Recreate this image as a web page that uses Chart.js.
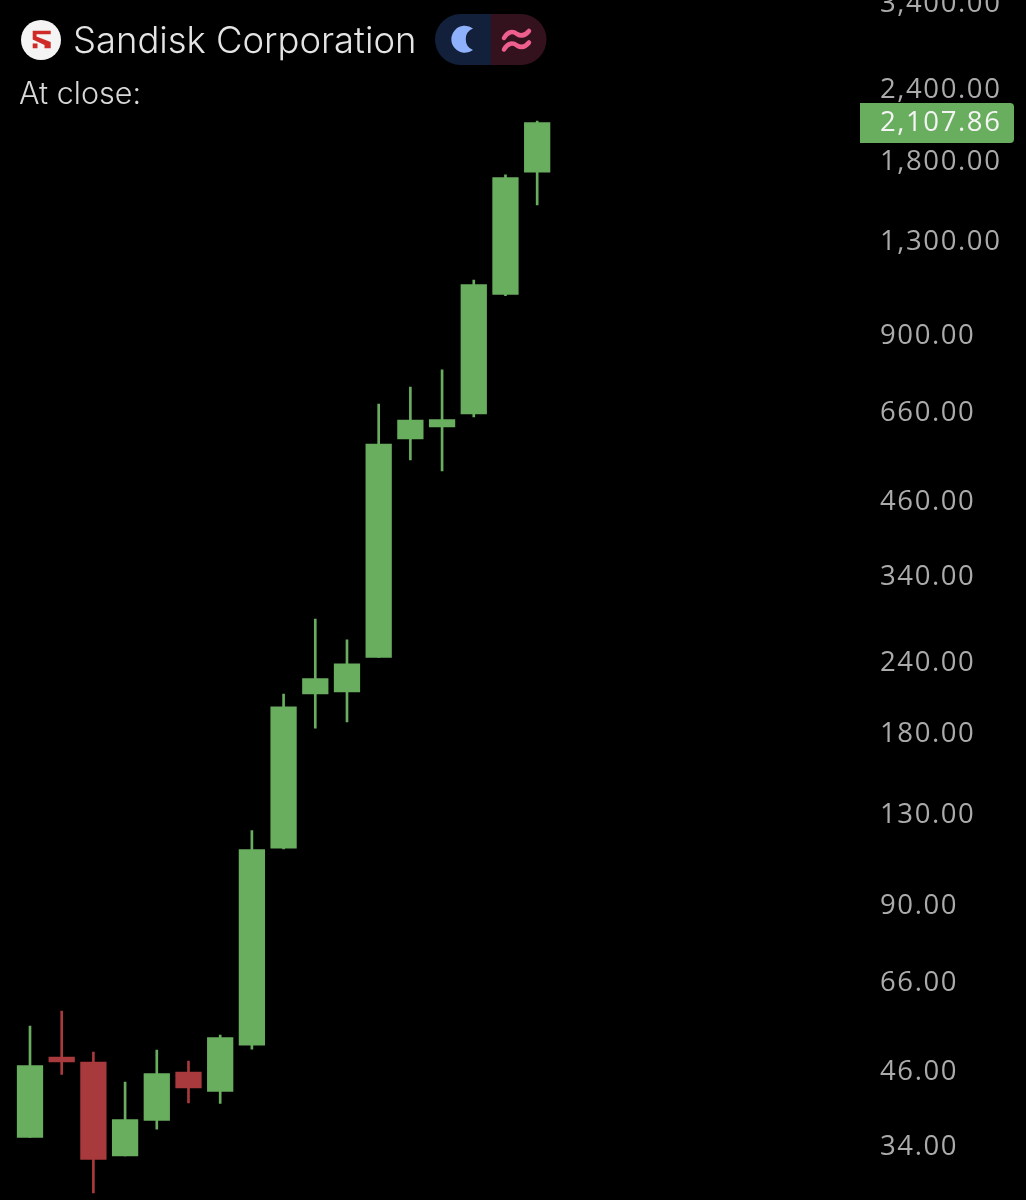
<!DOCTYPE html>
<html>
<head>
<meta charset="utf-8">
<style>
html,body{margin:0;padding:0;background:#000;width:1026px;height:1200px;overflow:hidden}
#wrap{position:relative;width:1026px;height:1200px}
canvas{position:absolute;left:0;top:0}
.t{position:absolute;font-family:Inter,"Open Sans",sans-serif;white-space:nowrap;line-height:1}
#name{left:73px;top:22px;font-size:36.4px;font-weight:300;color:#e4e4e4}
#sub{left:19px;top:78px;font-size:30.5px;font-weight:300;color:#d8d8d8}
svg{position:absolute}
</style>
<script src="https://cdn.jsdelivr.net/npm/chart.js@4"></script>
</head>
<body>
<div id="wrap">
<canvas id="c" width="1026" height="1200"></canvas>
<svg style="left:20px;top:19px" width="42" height="42" viewBox="0 0 42 42">
<circle cx="21" cy="21" r="20" fill="#f4f4f4"/>
<path d="M12.7 11.7 H30.7 V15.2 H16.5 V17.5 L30.7 23 V29.3 H24.5 V26 L12.7 20.5 Z M12.7 24.5 H17.5 V29.3 H12.7 Z" fill="#cf2a27"/>
</svg>
<svg style="left:435px;top:14px" width="112" height="52" viewBox="0 0 112 52">
<path d="M26 0 H56 V51 H25.5 A25.5 25.5 0 0 1 25.5 0 Z" fill="#13203b"/>
<path d="M56 0 H86 A25.5 25.5 0 0 1 86 51 H56 Z" fill="#33121e"/>
<path d="M38 14.5 A13.5 13.5 0 1 0 38 36 A11.6 11.6 0 0 1 38 14.5 Z" fill="#8fb0fb"/>
<path d="M69 24 C73 17 78 17 82 20 C86 22.5 90 22 94 17 M69 35.5 C73 28.5 78 28.5 82 31.5 C86 34 90 33.5 94 28.5" fill="none" stroke="#ee5f8e" stroke-width="4.5" stroke-linecap="round"/>
</svg>
<div class="t" id="name">Sandisk Corporation</div>
<div class="t" id="sub">At close:</div>
</div>
<script>
const categories = ['1','2','3','4','5','6','7','8','9','10','11','12','13','14','15','16','17'];
const emptySlots = ['','','','','','','','','',''];
const opens  = [35.04,48.48,47.53,32.53,37.53,45.64,42.19,50.89,112.7,210,211.7,243.4,588,617,650.2,1053.4,1725];
const highs  = [54.95,58.36,49.49,43.83,49.89,47.72,52.98,121,210,284.2,261.2,677,725.1,776.8,1116.8,1706.5,2121.7];
const lows   = [35.04,45.19,28.02,32.53,36.26,40.28,40.2,50.07,112.3,183,187.5,243.4,540,516.7,642.5,1048.3,1511.8];
const closes = [46.85,47.53,32.07,37.69,45.37,42.79,52.46,112,199.3,223.5,237.1,576.1,634.7,635.5,1096.8,1687.8,2107.86];
const tickValues = [34,46,66,90,130,180,240,340,460,660,900,1300,1800,2400,3400];

const GREEN = '#69ae5f', RED = '#a8393c', TEXT = '#ababab';
const FONT = '"Open Sans", sans-serif';
const SPACING = '1.6px';
const LABEL_SHIFT = 2.5;
const fmt = v => v.toLocaleString('en-US',{minimumFractionDigits:2,maximumFractionDigits:2});
const colors = closes.map((c,i)=> c>=opens[i] ? GREEN : RED);

const priceTag = {
  id:'priceTag',
  beforeDraw(chart){ chart.ctx.letterSpacing = SPACING; },
  afterDraw(chart){
    const ctx = chart.ctx, y = Math.round(chart.scales.y.getPixelForValue(closes[closes.length-1]));
    ctx.save();
    ctx.fillStyle = GREEN;
    ctx.beginPath();
    ctx.roundRect(860, y-20, 154, 40, [0,4,4,0]);
    ctx.fill();
    ctx.fillStyle = '#f4f4f4';
    ctx.font = '400 27.5px '+FONT;
    ctx.textBaseline = 'middle';
    ctx.textAlign = 'left';
    ctx.fillText(fmt(closes[closes.length-1]), 880, y);
    ctx.restore();
  }
};

new Chart(document.getElementById('c'),{
  type:'bar',
  data:{
    labels:categories.concat(emptySlots),
    datasets:[
      {label:'Range',data:lows.map((l,i)=>[l,highs[i]]),backgroundColor:colors,barThickness:2,grouped:false,order:2},
      {label:'Body',data:opens.map((o,i)=>[o,closes[i]]),backgroundColor:colors,barThickness:25.6,grouped:false,order:1}
    ]
  },
  options:{
    responsive:false,
    animation:false,
    devicePixelRatio:1,
    layout:{padding:{left:14.15,right:0,top:0,bottom:0}},
    plugins:{legend:{display:false},tooltip:{enabled:false}},
    scales:{
      x:{display:false,grid:{display:false}},
      y:{
        type:'logarithmic',
        position:'right',
        min:27.23,
        max:3458,
        grid:{display:false,drawTicks:false},
        border:{display:false},
        afterBuildTicks(s){ s.ticks = tickValues.map(v=>({value:v})); },
        afterFit(s){
          s.width = 156; s.paddingTop = 0; s.paddingBottom = 0;
          if(!s._shifted){
            s._shifted = true;
            const orig = s._computeLabelItems;
            s._computeLabelItems = function(area){
              const items = orig.call(this, area);
              items.forEach(it => { if(!String(it.label).includes(',')) it.options.translation[1] += LABEL_SHIFT; });
              return items;
            };
          }
        },
        ticks:{
          autoSkip:false,
          padding:10,
          color:TEXT,
          font:{family:FONT,size:27.5,weight:'400'},
          callback:v=>fmt(v)
        }
      }
    }
  },
  plugins:[priceTag]
});
</script>
</body>
</html>
